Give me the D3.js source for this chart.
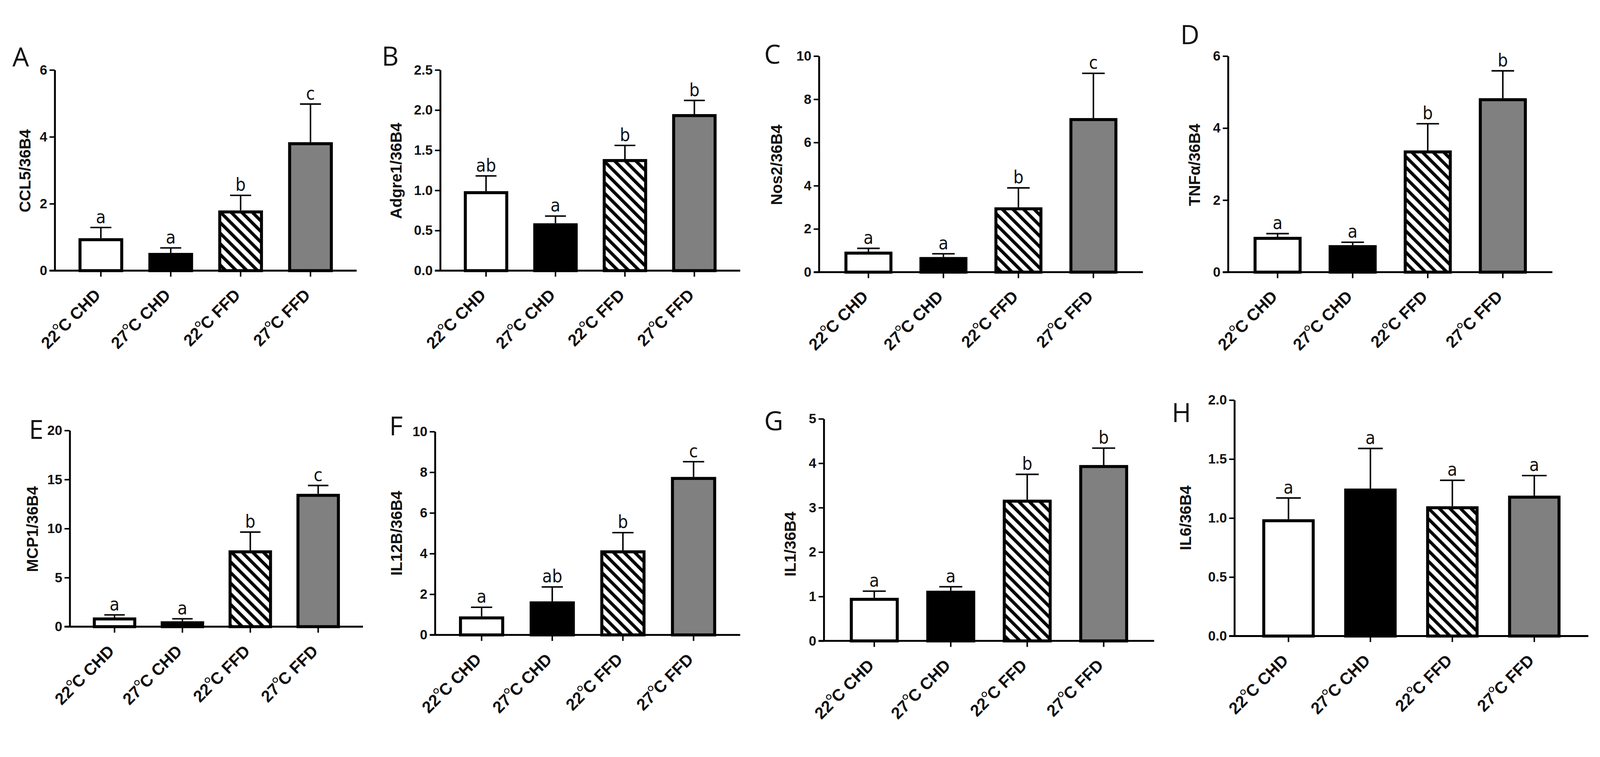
<!DOCTYPE html>
<html>
<head>
<meta charset="utf-8">
<script src="https://cdn.jsdelivr.net/npm/d3@7"></script>
<style>
  html, body { margin: 0; padding: 0; background: #ffffff; overflow: hidden; }
  svg { display: block; width: 100vw; height: 100vh; }
</style>
</head>
<body>
<svg id="chart" viewBox="0 0 4267 1937" preserveAspectRatio="xMidYMid meet"></svg>
<script>
// groups shared by every panel
const groups = ["22°C CHD", "27°C CHD", "22°C FFD", "27°C FFD"];

// A - CCL5
const ccl5Mean = [0.97, 0.53, 1.80, 3.84];
const ccl5Sem = [0.32, 0.15, 0.45, 1.14];
const ccl5Sig = ["a", "a", "b", "c"];
const ccl5Ticks = [0, 2, 4, 6];

// B - Adgre1
const adgre1Mean = [0.99, 0.59, 1.39, 1.95];
const adgre1Sem = [0.19, 0.09, 0.17, 0.17];
const adgre1Sig = ["ab", "a", "b", "b"];
const adgre1Ticks = [0, 0.5, 1.0, 1.5, 2.0, 2.5];

// C - Nos2
const nos2Mean = [0.95, 0.70, 3.00, 7.13];
const nos2Sem = [0.15, 0.15, 0.90, 2.07];
const nos2Sig = ["a", "a", "b", "c"];
const nos2Ticks = [0, 2, 4, 6, 8, 10];

// D - TNFα
const tnfMean = [0.98, 0.75, 3.38, 4.83];
const tnfSem = [0.09, 0.08, 0.74, 0.76];
const tnfSig = ["a", "a", "b", "b"];
const tnfTicks = [0, 2, 4, 6];

// E - MCP1
const mcp1Mean = [0.94, 0.55, 7.78, 13.54];
const mcp1Sem = [0.26, 0.25, 1.86, 0.85];
const mcp1Sig = ["a", "a", "b", "c"];
const mcp1Ticks = [0, 5, 10, 15, 20];

// F - IL12B
const il12bMean = [0.91, 1.65, 4.16, 7.77];
const il12bSem = [0.45, 0.71, 0.87, 0.75];
const il12bSig = ["a", "ab", "b", "c"];
const il12bTicks = [0, 2, 4, 6, 8, 10];

// G - IL1
const il1Mean = [0.97, 1.13, 3.18, 3.96];
const il1Sem = [0.15, 0.09, 0.57, 0.38];
const il1Sig = ["a", "a", "b", "b"];
const il1Ticks = [0, 1, 2, 3, 4, 5];

// H - IL6
const il6Mean = [0.99, 1.25, 1.10, 1.19];
const il6Sem = [0.18, 0.34, 0.22, 0.17];
const il6Sig = ["a", "a", "a", "a"];
const il6Ticks = [0, 0.5, 1.0, 1.5, 2.0];

// layout of each panel on the page (pixels)
const panels = [
  { letter: "A", title: "CCL5/36B4", mean: ccl5Mean, sem: ccl5Sem, sig: ccl5Sig, ticks: ccl5Ticks, fmt: "d",
    box: { x0: 146, x1: 951, y0: 681, yTop: 146, lx: 33, ly: 137, tx: 67, ty: 415 } },
  { letter: "B", title: "Adgre1/36B4", mean: adgre1Mean, sem: adgre1Sem, sig: adgre1Sig, ticks: adgre1Ticks, fmt: ".1f",
    box: { x0: 1174, x1: 1974, y0: 681, yTop: 146, lx: 1018, ly: 135, tx: 1057, ty: 415 } },
  { letter: "C", title: "Nos2/36B4", mean: nos2Mean, sem: nos2Sem, sig: nos2Sig, ticks: nos2Ticks, fmt: "d",
    box: { x0: 2184, x1: 3048, y0: 685, yTop: 109, lx: 2038, ly: 129, tx: 2071, ty: 399 } },
  { letter: "D", title: "TNFα/36B4", mean: tnfMean, sem: tnfSem, sig: tnfSig, ticks: tnfTicks, fmt: "d",
    box: { x0: 3275, x1: 4140, y0: 685, yTop: 109, lx: 3148, ly: 77, tx: 3186, ty: 399 } },
  { letter: "E", title: "MCP1/36B4", mean: mcp1Mean, sem: mcp1Sem, sig: mcp1Sig, ticks: mcp1Ticks, fmt: "d",
    box: { x0: 186, x1: 968, y0: 1630, yTop: 1107, lx: 77, ly: 1129, tx: 87, ty: 1370 } },
  { letter: "F", title: "IL12B/36B4", mean: il12bMean, sem: il12bSem, sig: il12bSig, ticks: il12bTicks, fmt: "d",
    box: { x0: 1160, x1: 1974, y0: 1652, yTop: 1110, lx: 1038, ly: 1120, tx: 1058, ty: 1381 } },
  { letter: "G", title: "IL1/36B4", mean: il1Mean, sem: il1Sem, sig: il1Sig, ticks: il1Ticks, fmt: "d",
    box: { x0: 2197, x1: 3078, y0: 1668, yTop: 1076, lx: 2038, ly: 1107, tx: 2108, ty: 1410 } },
  { letter: "H", title: "IL6/36B4", mean: il6Mean, sem: il6Sem, sig: il6Sig, ticks: il6Ticks, fmt: ".1f",
    box: { x0: 3292, x1: 4236, y0: 1655, yTop: 1026, lx: 3125, ly: 1085, tx: 3162, ty: 1340 } }
];

const fills = ["#ffffff", "#000000", "url(#hatch)", "#808080"];
const boldFont = "'Liberation Sans', Arial, sans-serif";
const narrowFont = "'Liberation Sans Narrow', 'DejaVu Sans Condensed', 'Liberation Sans', sans-serif";
const barStroke = 8;

const svg = d3.select("#chart");
svg.append("rect").attr("width", 4267).attr("height", 1937).attr("fill", "#ffffff");

// diagonal hatch for the 22°C FFD bars
const pattern = svg.append("defs").append("pattern")
  .attr("id", "hatch")
  .attr("patternUnits", "userSpaceOnUse")
  .attr("width", 20)
  .attr("height", 20)
  .attr("patternTransform", "rotate(-45)");
pattern.append("rect").attr("width", 20).attr("height", 20).attr("fill", "#ffffff");
pattern.append("rect").attr("width", 8.5).attr("height", 20).attr("fill", "#000000");

function drawPanel(p) {
  const b = p.box;
  const x = d3.scaleBand().domain(groups).range([b.x0, b.x1]).paddingInner(0.36).paddingOuter(0.34);
  const y = d3.scaleLinear().domain([0, d3.max(p.ticks)]).range([b.y0, b.yTop]);
  const g = svg.append("g");
  const rows = groups.map((k, i) => ({ group: k, mean: p.mean[i], sem: p.sem[i], sig: p.sig[i], i }));
  const bw = x.bandwidth();
  const capW = bw * 0.47;

  // bars
  g.selectAll("rect.bar").data(rows).join("rect")
    .attr("class", "bar")
    .attr("x", d => x(d.group) + barStroke / 2)
    .attr("width", bw - barStroke)
    .attr("y", d => y(d.mean) + barStroke / 2)
    .attr("height", d => y(0) - y(d.mean) - barStroke / 2)
    .attr("fill", d => fills[d.i])
    .attr("stroke", "#000")
    .attr("stroke-width", barStroke);

  // error bars (upper only)
  const err = g.selectAll("g.err").data(rows).join("g").attr("class", "err");
  err.append("line")
    .attr("x1", d => x(d.group) + bw / 2).attr("x2", d => x(d.group) + bw / 2)
    .attr("y1", d => y(d.mean)).attr("y2", d => y(d.mean + d.sem))
    .attr("stroke", "#000").attr("stroke-width", 4);
  err.append("line")
    .attr("x1", d => x(d.group) + bw / 2 - capW / 2).attr("x2", d => x(d.group) + bw / 2 + capW / 2)
    .attr("y1", d => y(d.mean + d.sem)).attr("y2", d => y(d.mean + d.sem))
    .attr("stroke", "#000").attr("stroke-width", 4);

  // significance letters
  g.selectAll("text.sig").data(rows).join("text")
    .attr("class", "sig")
    .attr("x", d => x(d.group) + bw / 2)
    .attr("y", d => y(d.mean + d.sem) - 12)
    .attr("text-anchor", "middle")
    .attr("font-family", narrowFont)
    .attr("font-size", 48)
    .attr("fill", "#111")
    .text(d => d.sig);

  // y axis
  const yAxis = g.append("g")
    .attr("transform", `translate(${b.x0},0)`)
    .call(d3.axisLeft(y).tickValues(p.ticks).tickFormat(d3.format(p.fmt)).tickSize(14).tickPadding(6).tickSizeOuter(0));
  yAxis.select(".domain").attr("stroke-width", 5);
  yAxis.selectAll(".tick line").attr("stroke-width", 4);
  yAxis.selectAll(".tick text")
    .attr("font-family", boldFont)
    .attr("font-weight", "bold")
    .attr("font-size", 36)
    .attr("fill", "#111");

  // x axis
  const xAxis = g.append("g")
    .attr("transform", `translate(0,${b.y0})`)
    .call(d3.axisBottom(x).tickSize(16).tickSizeOuter(0).tickFormat(""));
  xAxis.select(".domain").attr("d", `M${b.x0 - 14},0H${b.x1}`).attr("stroke-width", 5);
  xAxis.selectAll(".tick line").attr("stroke-width", 4);
  xAxis.selectAll(".tick text").remove();

  // rotated group labels with raised degree ring
  rows.forEach(d => {
    const parts = d.group.split("°");
    const t = g.append("text")
      .attr("transform", `translate(${x(d.group) + bw / 2 + 2},${b.y0 + 68}) rotate(-45)`)
      .attr("text-anchor", "end")
      .attr("font-family", boldFont)
      .attr("font-weight", "bold")
      .attr("font-size", 44)
      .attr("fill", "#111");
    t.append("tspan").text(parts[0]);
    t.append("tspan").attr("font-size", "1.2em").attr("font-weight", "normal").attr("dx", -2).text("°");
    t.append("tspan").attr("dx", -5).text(parts[1]);
  });

  // y title
  g.append("text")
    .attr("transform", `translate(${b.tx},${b.ty}) rotate(-90)`)
    .attr("text-anchor", "middle")
    .attr("dominant-baseline", "central")
    .attr("font-family", boldFont)
    .attr("font-weight", "bold")
    .attr("font-size", 42)
    .attr("fill", "#111")
    .text(p.title);

  // panel letter
  g.append("text")
    .attr("x", b.lx)
    .attr("y", b.ly)
    .attr("font-family", "'Open Sans', sans-serif")
    .attr("font-size", 70)
    .attr("fill", "#111")
    .text(p.letter);
}

panels.forEach(drawPanel);
</script>
</body>
</html>
